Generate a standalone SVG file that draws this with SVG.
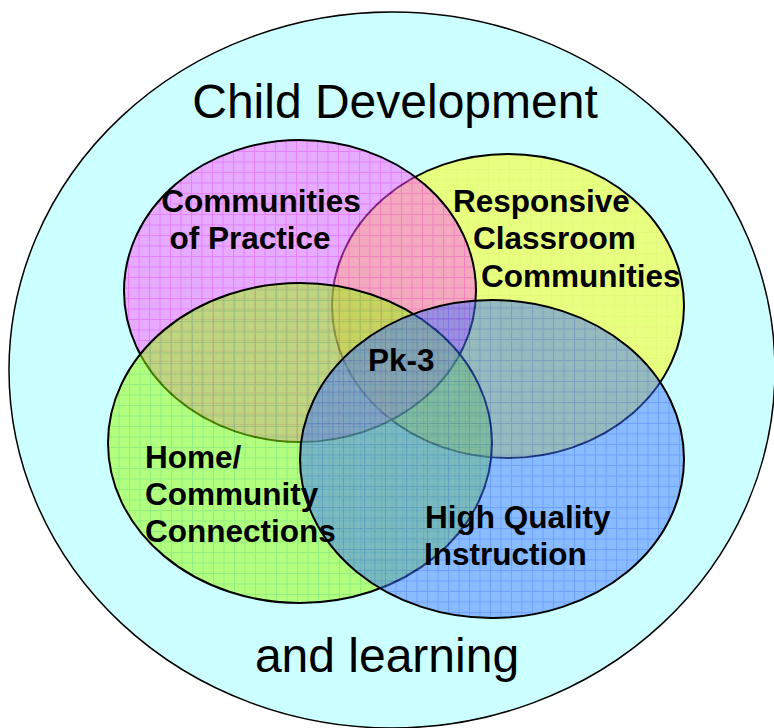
<svg xmlns="http://www.w3.org/2000/svg" width="774" height="728" viewBox="0 0 774 728">
  <style>
    .ring { stroke: #000; stroke-width: 2; fill-opacity: 0.5; }
    .big { font-family: "Liberation Sans", Arial, sans-serif; font-size: 48px; fill: #000; }
    .lbl { font-family: "Liberation Sans", Arial, sans-serif; font-size: 31.5px; font-weight: bold; fill: #000; }
  </style>
  <defs>
    <pattern id="gMag" patternUnits="userSpaceOnUse" width="10.5" height="10.5" x="2" y="4">
      <rect width="10.5" height="10.5" fill="#ff55ff"/>
      <path d="M0 0.5H10.5M0.5 0V10.5" stroke="#ff00ff" stroke-width="1" fill="none"/>
    </pattern>
    <pattern id="gYel" patternUnits="userSpaceOnUse" width="10.5" height="10.5" x="5" y="1">
      <rect width="10.5" height="10.5" fill="#ffff00"/>
      <path d="M0 0.5H10.5M0.5 0V10.5" stroke="#ffee00" stroke-width="1" fill="none"/>
    </pattern>
    <pattern id="gGrn" patternUnits="userSpaceOnUse" width="10.5" height="10.5" x="3" y="6">
      <rect width="10.5" height="10.5" fill="#99ff00"/>
      <path d="M0 0.5H10.5M0.5 0V10.5" stroke="#55dd00" stroke-width="1" fill="none"/>
    </pattern>
    <pattern id="gBlu" patternUnits="userSpaceOnUse" width="10.5" height="10.5" x="7" y="3">
      <rect width="10.5" height="10.5" fill="#4477ff"/>
      <path d="M0 0.5H10.5M0.5 0V10.5" stroke="#1144ff" stroke-width="1" fill="none"/>
    </pattern>
  </defs>
  <rect width="774" height="728" fill="#ffffff"/>
  <g id="outer">
    <ellipse cx="392" cy="370" rx="383" ry="358" fill="#ccffff" stroke="#000" stroke-width="1.5"/>
    <text class="big" x="395" y="118" text-anchor="middle">Child Development</text>
    <text class="big" x="387" y="672" text-anchor="middle">and learning</text>
  </g>
  <g id="responsive">
    <ellipse class="ring" cx="508" cy="306" rx="176" ry="152" fill="url(#gYel)"/>
  </g>
  <g id="communities-of-practice">
    <ellipse class="ring" cx="300" cy="291" rx="176" ry="151" fill="url(#gMag)"/>
  </g>
  <g id="home">
    <ellipse class="ring" cx="300" cy="443" rx="192" ry="160" fill="url(#gGrn)"/>
  </g>
  <g id="instruction">
    <ellipse class="ring" cx="492" cy="459" rx="192" ry="159" fill="url(#gBlu)"/>
  </g>
  <g id="labels">
    <text class="lbl" x="261" y="212" text-anchor="middle">Communities</text>
    <text class="lbl" x="250" y="249" text-anchor="middle">of Practice</text>
    <text class="lbl" x="453" y="212">Responsive</text>
    <text class="lbl" x="473" y="249">Classroom</text>
    <text class="lbl" x="481" y="287">Communities</text>
    <text class="lbl" x="145" y="468">Home/</text>
    <text class="lbl" x="145" y="505">Community</text>
    <text class="lbl" x="145" y="542">Connections</text>
    <text class="lbl" x="425" y="528">High Quality</text>
    <text class="lbl" x="424" y="565">Instruction</text>
    <text class="lbl" x="368" y="371">Pk-3</text>
  </g>
  <g id="connectors"/>
</svg>
